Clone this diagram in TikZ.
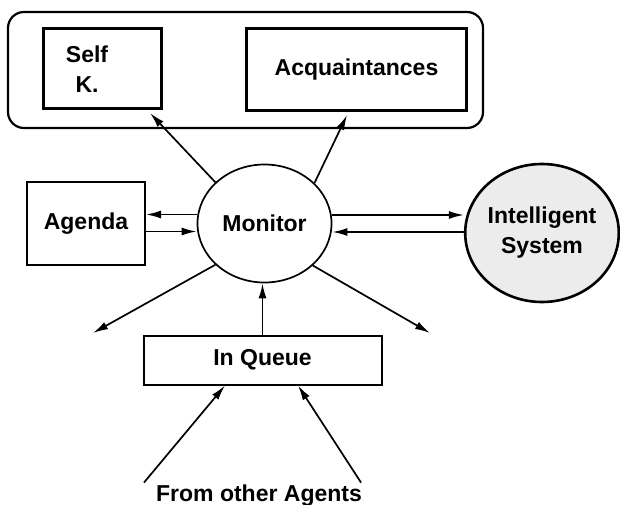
\documentclass[tikz,border=0pt]{standalone}
\usepackage{fontspec}
\setmainfont{Liberation Sans}
\usepackage{xcolor}
\usetikzlibrary{arrows.meta,shapes.geometric}

\tikzset{
    box/.style={draw, line width=2pt, inner sep=0pt},
    kbox/.style={box, line width=3.2pt},
    arr/.style={-{Latex[length=15pt,width=8pt]}, line width=1.7pt}
}

\begin{document}
\begin{tikzpicture}[
    x=1pt, y=-1pt,
    every node/.style={font=\fontsize{23}{30}\selectfont\bfseries, align=center}
]

    \useasboundingbox (0,0) rectangle (620,505);

    % knowledge part
    \draw [line width=2.2pt, rounded corners=16pt] (8,12) rectangle (483,128);
    \node [kbox, minimum width=118pt, minimum height=80pt] (self) at (102.5,68.5) {};
    \node (selflbl) at (87,69.5) {Self\\K.};
    \node [kbox, minimum width=220pt, minimum height=82pt] (acq) at (356.5,69.5) {Acquaintances};

    % middle row
    \node [box, minimum width=118pt, minimum height=83pt] (agenda) at (86,223.5) {Agenda};
    \node [ellipse, draw, line width=1.7pt, inner sep=0pt,
        minimum width=134pt, minimum height=118pt] (mon) at (264.5,223.5) {Monitor};
    \node [ellipse, draw, line width=2.6pt, fill=gray!15, inner sep=0pt,
        minimum width=152pt, minimum height=138pt] (is) at (542,233) {Intelligent\\System};

    % bottom
    \node [box, minimum width=238pt, minimum height=49pt] (inq) at (262.5,360) {In Queue};
    \node [anchor=base, inner sep=0pt] (from) at (259,501) {From other Agents};

    \coordinate (outl) at (93,333);
    \coordinate (outr) at (430,333);

    \draw [arr] (mon.140) -- ([xshift=-13pt,yshift=-3pt]self.south east);
    \draw [arr] (mon.39) -- ([xshift=-9.5pt,yshift=-3pt]acq.south);

    \draw [arr] ([yshift=9pt]mon.west) -- ([yshift=9pt]agenda.east);
    \draw [arr] ([yshift=-8pt]agenda.east) -- ([yshift=-8pt]mon.west);
    \draw [arr] ([yshift=8.5pt]mon.east) -- ([yshift=8.5pt]mon.east -| is.west);
    \draw [arr] ([yshift=-8.5pt]mon.east -| is.west) -- ([yshift=-8.5pt]mon.east);

    \draw [arr] (mon.220) -- (outl);
    \draw [arr] (mon.-41) -- (outr);
    \draw [arr] (inq.north) -- (inq.north |- mon.south);

    \draw [arr] ([xshift=-12pt,yshift=1.5pt]from.north west) -- ([xshift=-37.5pt]inq.south);
    \draw [arr] ([xshift=-1pt,yshift=1.5pt]from.north east) -- ([xshift=35.5pt]inq.south);

\end{tikzpicture}
\end{document}
